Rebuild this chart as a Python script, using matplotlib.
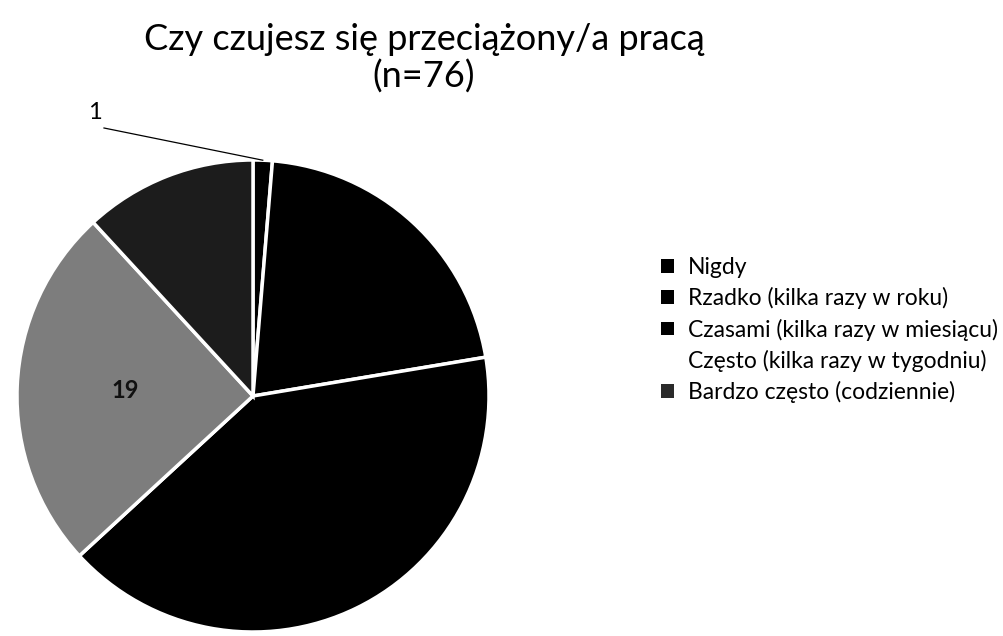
import matplotlib
matplotlib.use("Agg")
import matplotlib.pyplot as plt
from matplotlib.patches import Patch
import numpy as np

plt.rcParams['font.family'] = ['Lato', 'DejaVu Sans']

categories = ["Nigdy", "Rzadko (kilka razy w roku)", "Czasami (kilka razy w miesiącu)",
              "Często (kilka razy w tygodniu)", "Bardzo często (codziennie)"]
values = [1, 16, 31, 19, 9]
colors = ["#000000", "#000000", "#000000", "#7d7d7d", "#1c1c1c"]
label_colors = ["#000000", "#000000", "#000000", "#111111", "#1c1c1c"]
legend_colors = ["#000000", "#000000", "#000000", "#ffffff", "#2a2a2a"]
title_line1 = "Czy czujesz się przeciążony/a pracą"
title_line2 = "(n=76)"

W, H = 1004, 636
fig = plt.figure(figsize=(W / 100, H / 100), dpi=100)
cx, cy, r = 253, 396, 236
ax = fig.add_axes([(cx - r) / W, (H - cy - r) / H, 2 * r / W, 2 * r / H])

wedges, _ = ax.pie(values, colors=colors, startangle=90, counterclock=False, radius=1,
                   wedgeprops=dict(edgecolor="white", linewidth=2.5))
ax.set_xlim(-1, 1)
ax.set_ylim(-1, 1)
ax.set_aspect("equal")
ax.axis("off")

def px(x, y):
    return (x - cx) / r, (cy - y) / r

for w, v, lc in zip(wedges, values, label_colors):
    mid = np.deg2rad((w.theta1 + w.theta2) / 2)
    if v < 3:
        ex, ey = np.cos(mid), np.sin(mid)
        lx, ly = px(95, 112)
        sx, sy = px(104, 128)
        ax.text(lx, ly, str(v), fontsize=17, color="black", ha="center", va="center")
        ax.plot([sx, ex], [sy, ey], color="black", lw=0.9, clip_on=False)
    else:
        ax.text(0.54 * np.cos(mid), 0.54 * np.sin(mid), str(v), fontsize=17,
                color=lc, ha="center", va="center", fontweight="bold")

fig.text(424 / W, 1 - 39 / H, title_line1, fontsize=26, ha="center", va="center")
fig.text(424 / W, 1 - 77 / H, title_line2, fontsize=26, ha="center", va="center")

handles = [Patch(facecolor=c, edgecolor="none") for c in legend_colors]
fig.legend(handles, categories, loc="upper left", bbox_to_anchor=(652 / W, 1 - 248 / H),
           frameon=False, fontsize=16.5, handlelength=0.55, handleheight=0.55,
           handletextpad=0.6, labelspacing=0.40, borderaxespad=0)

fig.savefig("out.png", dpi=100)
